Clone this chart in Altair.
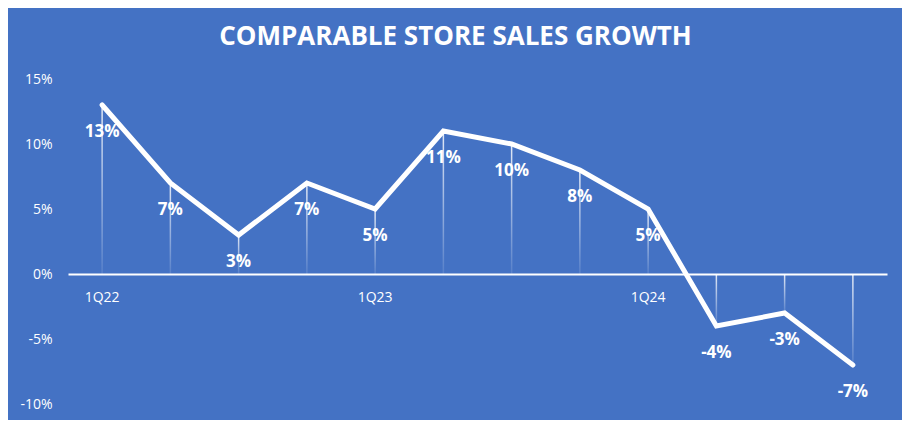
import altair as alt
import pandas as pd

quarters = ["1Q22", "2Q22", "3Q22", "4Q22", "1Q23", "2Q23", "3Q23", "4Q23",
            "1Q24", "2Q24", "3Q24", "4Q24"]
growth = [13, 7, 3, 7, 5, 11, 10, 8, 5, -4, -3, -7]
shown_ticks = ["1Q22", "1Q23", "1Q24"]
y_ticks = [-10, -5, 0, 5, 10, 15]

df = pd.DataFrame({"q": quarters, "v": growth, "z": [0] * len(growth)})

BG = "#4472C4"
FONT = "Open Sans"

x = alt.X("q:N", sort=quarters,
          scale=alt.Scale(paddingInner=0, paddingOuter=0),
          axis=alt.Axis(values=shown_ticks, title=None, labelAngle=0,
                        domainColor="white", domainWidth=2, ticks=False,
                        labelColor="white", labelFont=FONT, labelFontSize=14,
                        labelPadding=16, offset=-130, grid=False))
y = alt.Y("v:Q", scale=alt.Scale(domain=[-10, 15], nice=False, zero=False),
          axis=alt.Axis(values=y_ticks, title=None, grid=False, domain=False,
                        ticks=False, labelColor="white", labelFont=FONT,
                        labelFontSize=14, labelPadding=16,
                        labelExpr="datum.value + '%'"))

grad = alt.Gradient(gradient="linear", x1=0, x2=0, y1=0, y2=1,
                    stops=[alt.GradientStop(color="rgba(255,255,255,0.85)", offset=0),
                           alt.GradientStop(color="rgba(255,255,255,0.1)", offset=1)])

drops = alt.Chart(df).mark_bar(size=1.5, color=grad).encode(
    x=x, y=y, y2="z:Q")

line = alt.Chart(df).mark_line(color="white", strokeWidth=5, strokeCap="round",
                               strokeJoin="miter").encode(x=x, y=y)

labels = alt.Chart(df).transform_calculate(
    lab="datum.v + '%'").mark_text(
    color="white", font=FONT, fontSize=17, fontWeight="bold", dy=27,
    baseline="middle").encode(x=x, y=y, text="lab:N")

chart = alt.layer(drops, line, labels).properties(
    width=819, height=325,
    title=alt.TitleParams("COMPARABLE STORE SALES GROWTH", font=FONT,
                          fontSize=26, fontWeight="bold", color="white",
                          anchor="middle", dx=-22, offset=22),
    autosize=alt.AutoSizeParams(type="none"),
    padding={"left": 60, "top": 71, "right": 15, "bottom": 16},
    background=BG,
).configure_view(stroke=None)

chart.save("out.html", embed_options={"renderer": "svg", "actions": False})
